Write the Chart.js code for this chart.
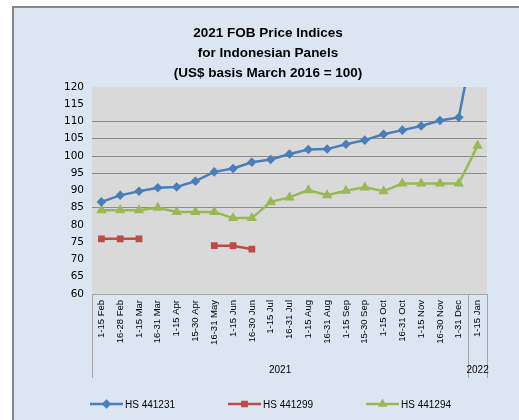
<!DOCTYPE html>
<html>
<head>
<meta charset="utf-8">
<script src="https://cdn.jsdelivr.net/npm/chart.js@4/dist/chart.umd.min.js"></script>
<style>
  html, body { margin: 0; padding: 0; background: #ffffff; }
  #wrap { width: 519px; height: 420px; position: relative; }
  canvas { display: block; }
</style>
</head>
<body>
<div id="wrap"><canvas id="c" width="519" height="420"></canvas></div>
<script>
// ---- data ----
const categories = ["1-15 Feb","16-28 Feb","1-15 Mar","16-31 Mar","1-15 Apr","15-30 Apr","16-31 May","1-15 Jun","16-30 Jun","1-15 Jul","16-31 Jul","1-15 Aug","16-31 Aug","1-15 Sep","15-30 Sep","1-15 Oct","16-31 Oct","1-15 Nov","16-30 Nov","1-31 Dec","1-15 Jan"];
const yearGroups = ["2021", "2022"];
const yearGroupSizes = [20, 1];
const hs441231 = [86.7, 88.6, 89.8, 90.8, 91, 92.7, 95.4, 96.4, 98.2, 99, 100.6, 101.9, 102, 103.4, 104.6, 106.3, 107.5, 108.7, 110.3, 111.2, 139];
const hs441299 = [76, 76, 76, null, null, null, 74, 74, 73, null, null, null, null, null, null, null, null, null, null, null, null];
const hs441294 = [84.3, 84.3, 84.3, 85, 83.8, 83.8, 83.8, 82, 82, 86.7, 88, 90.1, 88.6, 89.9, 90.9, 89.8, 92, 92, 92, 92, 103];
const seriesNames = ["HS 441231", "HS 441299", "HS 441294"];
const titleLines = ["2021 FOB Price Indices", "for Indonesian Panels", "(US$ basis March 2016 = 100)"];
const yMin = 60, yMax = 120, yStep = 5;
const shownGridValues = [85, 95, 100, 105, 110];

const colors = ["#4a7ebb", "#be4b48", "#98b954"];
const pointStyles = ["rectRot", "rect", "triangle"];

const bgPlugin = {
  id: "bg",
  beforeDraw(chart) {
    const ctx = chart.ctx;
    const a = chart.chartArea;
    ctx.save();
    ctx.fillStyle = "#ffffff";
    ctx.fillRect(0, 0, chart.width, chart.height);
    ctx.fillStyle = "#dce6f2";
    ctx.fillRect(13, 7, chart.width - 13, chart.height - 7);
    ctx.strokeStyle = "#868686";
    ctx.lineWidth = 2;
    ctx.beginPath();
    ctx.moveTo(13, chart.height);
    ctx.lineTo(13, 7);
    ctx.lineTo(chart.width, 7);
    ctx.stroke();
    ctx.fillStyle = "#d9d9d9";
    ctx.fillRect(a.left, a.top, a.right - a.left, a.bottom - a.top);
    ctx.restore();
  },
  afterDraw(chart) {
    const ctx = chart.ctx;
    const a = chart.chartArea;
    const xs = chart.scales.x;
    ctx.save();
    // title
    ctx.fillStyle = "#000000";
    ctx.font = "bold 13.5px 'Liberation Sans', Arial, sans-serif";
    ctx.textAlign = "center";
    ctx.textBaseline = "middle";
    const tys = [33, 53, 73];
    titleLines.forEach((t, i) => ctx.fillText(t, 268, tys[i]));
    // group separators and year labels
    ctx.strokeStyle = "#a6a6a6";
    ctx.lineWidth = 1;
    const half = (xs.getPixelForValue(1) - xs.getPixelForValue(0)) / 2;
    let start = 0;
    const bounds = [a.left];
    yearGroupSizes.forEach(n => { start += n; bounds.push(start >= categories.length ? a.right : xs.getPixelForValue(start) - half); });
    bounds.forEach(x => {
      ctx.beginPath();
      ctx.moveTo(Math.round(x) + 0.5, a.bottom);
      ctx.lineTo(Math.round(x) + 0.5, 378);
      ctx.stroke();
    });
    ctx.font = "10px 'Liberation Sans', Arial, sans-serif";
    ctx.fillStyle = "#000000";
    yearGroups.forEach((g, i) => {
      ctx.fillText(g, (bounds[i] + bounds[i + 1]) / 2, 370);
    });
    // legend
    const legX = [90, 228, 366];
    const legY = 404;
    ctx.textAlign = "left";
    seriesNames.forEach((name, i) => {
      ctx.strokeStyle = colors[i];
      ctx.lineWidth = 2.5;
      ctx.beginPath();
      ctx.moveTo(legX[i], legY);
      ctx.lineTo(legX[i] + 33, legY);
      ctx.stroke();
      ctx.fillStyle = colors[i];
      Chart.helpers.drawPoint(ctx, { pointStyle: pointStyles[i], radius: 3, borderWidth: 1, rotation: 0 }, legX[i] + 16.5, legY);
      ctx.fillStyle = "#000000";
      ctx.fillText(name, legX[i] + 35, legY + 1);
    });
    ctx.restore();
  }
};

function ds(label, data, i) {
  return {
    label, data,
    borderColor: colors[i],
    backgroundColor: colors[i],
    pointBackgroundColor: colors[i],
    pointBorderColor: colors[i],
    pointStyle: pointStyles[i],
    pointRadius: i === 2 ? 3.5 : 3,
    borderWidth: 2.5,
    tension: 0,
    spanGaps: false
  };
}

new Chart(document.getElementById("c"), {
  type: "line",
  data: {
    labels: categories,
    datasets: [ds(seriesNames[0], hs441231, 0), ds(seriesNames[1], hs441299, 1), ds(seriesNames[2], hs441294, 2)]
  },
  options: {
    responsive: false,
    animation: false,
    devicePixelRatio: 1,
    layout: { padding: { top: 87, right: 32, bottom: 0, left: 0 } },
    plugins: { legend: { display: false }, title: { display: false }, tooltip: { enabled: false } },
    scales: {
      x: {
        offset: true,
        grid: { display: false, drawTicks: false, offset: true },
        border: { display: true, color: "#a6a6a6", width: 1 },
        afterFit(s) { s.height = 126; },
        ticks: {
          minRotation: 90, maxRotation: 90, autoSkip: false, padding: 6,
          color: "#000000",
          font: { family: "'Liberation Sans', Arial, sans-serif", size: 9.5 }
        }
      },
      y: {
        min: yMin, max: yMax,
        afterFit(s) { s.width = 92; },
        border: { display: false },
        grid: {
          drawTicks: false,
          lineWidth: 1,
          color: c => shownGridValues.includes(c.tick && c.tick.value) ? "#8c8c8c" : "rgba(0,0,0,0)"
        },
        ticks: {
          stepSize: yStep, padding: 8,
          color: "#000000",
          font: { family: "'DejaVu Sans', sans-serif", size: 10.5 }
        }
      }
    }
  },
  plugins: [bgPlugin]
});
</script>
</body>
</html>
